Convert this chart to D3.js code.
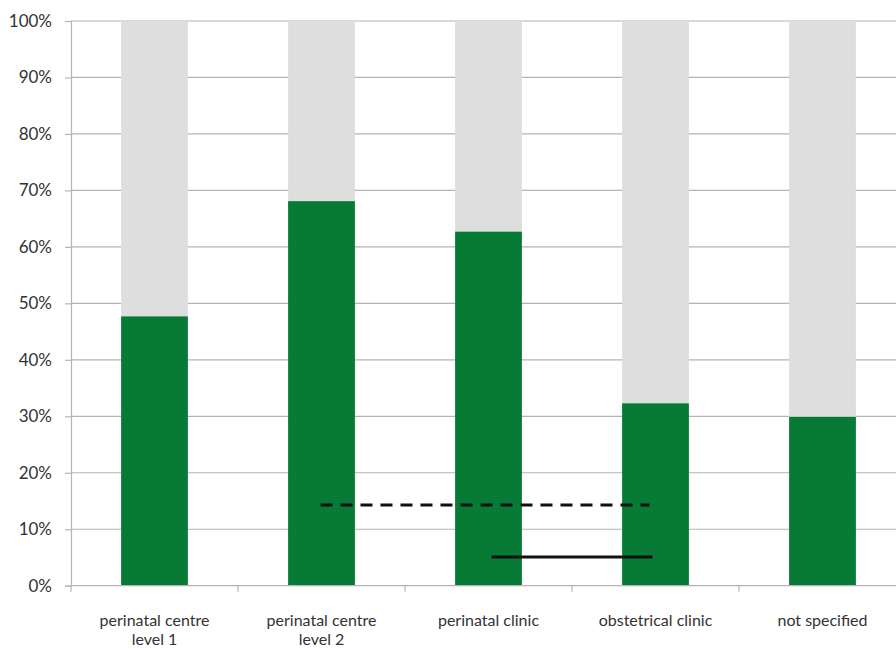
<!DOCTYPE html>
<html><head><meta charset="utf-8">
<script src="https://cdn.jsdelivr.net/npm/d3@7"></script>
<style>body{margin:0;background:#fff}svg{display:block}</style>
</head><body><svg id="c" width="896" height="649"></svg>
<script>
const categories = [["perinatal centre","level 1"],["perinatal centre","level 2"],["perinatal clinic"],["obstetrical clinic"],["not specified"]];
const catKeys = ["pc1","pc2","pclinic","oclinic","ns"];
const greenValues = [47.7, 68.1, 62.7, 32.3, 29.9];
const yTicks = [0,10,20,30,40,50,60,70,80,90,100];
const dashedRef = {from:"pc2", to:"oclinic", value:14.3};
const solidRef = {from:"pclinic", to:"oclinic", value:5.1};

const svg = d3.select("#c");
const x = d3.scaleBand().domain(catKeys).range([71,906]).paddingInner(0.6).paddingOuter(0.3);
const xCat = d3.scaleBand().domain(catKeys).range([71,906]).padding(0);
const y = d3.scaleLinear().domain([0,100]).range([585.7,21]);
const font = "Lato, 'Open Sans', sans-serif";

// gridlines
svg.append("g").selectAll("line").data(yTicks.filter(d=>d>0)).join("line")
  .attr("x1",71).attr("x2",906).attr("y1",d=>y(d)).attr("y2",d=>y(d))
  .attr("stroke","#b4b4b4").attr("stroke-width",1.2);

// y axis
const ya = svg.append("g").attr("transform","translate(71,0)")
  .call(d3.axisLeft(y).tickValues(yTicks).tickSize(6).tickFormat(d=>d+"%"));
ya.select(".domain").attr("stroke","#b4b4b4").attr("stroke-width",1.2);
ya.selectAll(".tick line").attr("stroke","#b4b4b4").attr("stroke-width",1.2);
ya.selectAll("text").attr("font-family",font).attr("font-size",17).attr("fill","#333").attr("x",-19);

// bars
const idx = d3.range(catKeys.length);
svg.append("g").selectAll("rect").data(idx).join("rect")
  .attr("x",i=>x(catKeys[i])).attr("width",x.bandwidth())
  .attr("y",y(100)).attr("height",i=>y(greenValues[i])-y(100)).attr("fill","#dedede");
svg.append("g").selectAll("rect").data(idx).join("rect")
  .attr("x",i=>x(catKeys[i])).attr("width",x.bandwidth())
  .attr("y",i=>y(greenValues[i])).attr("height",i=>y(0)-y(greenValues[i])).attr("fill","#077b35");

// x axis
const xa = svg.append("g").attr("transform",`translate(0,${y(0)})`);
xa.append("line").attr("x1",71).attr("x2",906).attr("stroke","#b4b4b4").attr("stroke-width",1.2);
xa.selectAll("line.t").data(catKeys).join("line").attr("class","t")
  .attr("x1",d=>xCat(d)).attr("x2",d=>xCat(d)).attr("y1",0).attr("y2",6)
  .attr("stroke","#b4b4b4").attr("stroke-width",1.2);
const lbl = xa.selectAll("text").data(idx).join("text")
  .attr("text-anchor","middle").attr("font-family",font).attr("font-size",16).attr("fill","#333")
  .attr("transform",i=>`translate(${xCat(catKeys[i])+xCat.bandwidth()/2},0)`);
lbl.selectAll("tspan").data(i=>categories[i]).join("tspan")
  .attr("x",0).attr("y",(d,j)=>40.3+j*19.4).text(d=>d);

// reference lines
const cx = k => xCat(k)+xCat.bandwidth()/2;
svg.append("line").attr("x1",cx(dashedRef.from)-1).attr("x2",cx(dashedRef.to)-6)
  .attr("y1",y(dashedRef.value)).attr("y2",y(dashedRef.value))
  .attr("stroke","#111").attr("stroke-width",3).attr("stroke-dasharray","12,8");
svg.append("line").attr("x1",cx(solidRef.from)+3).attr("x2",cx(solidRef.to)-3)
  .attr("y1",y(solidRef.value)).attr("y2",y(solidRef.value))
  .attr("stroke","#111").attr("stroke-width",3);
</script></body></html>
